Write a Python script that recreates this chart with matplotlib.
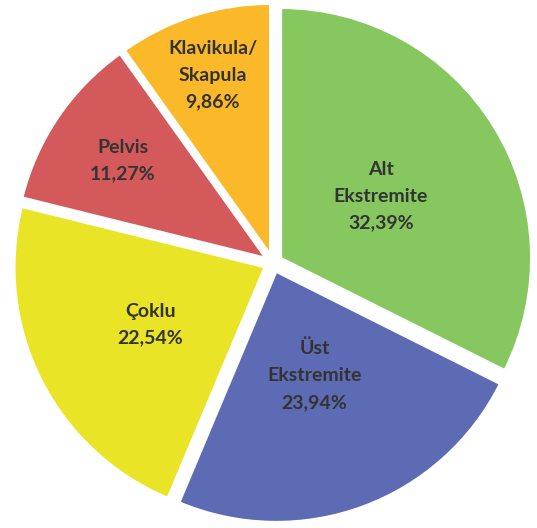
import numpy as np
import matplotlib.pyplot as plt

categories = ["Alt\nEkstremite", "Üst\nEkstremite", "Çoklu", "Pelvis", "Klavikula/\nSkapula"]
values = [32.39, 23.94, 22.54, 11.27, 9.86]
colors = ["#86C760", "#5C6BB3", "#E9E426", "#D3595B", "#FBB92A"]
label_radius = [0.47, 0.44, 0.51, 0.69, 0.75]

W, H = 537, 528
fig = plt.figure(figsize=(W / 100, H / 100), dpi=100)
ax = fig.add_axes([0, 0, 1, 1])

R = 250.0
cx, cy = 273.0, H - 263.0
explode = [9.5] * len(values)  # offset in pixels (data units)

wedges, _ = ax.pie(values, colors=colors, startangle=90, counterclock=False,
                   radius=R, center=(cx, cy), explode=explode,
                   wedgeprops=dict(edgecolor="white", linewidth=1.5))

for w, lab, val, rf in zip(wedges, categories, values, label_radius):
    mid = np.deg2rad((w.theta1 + w.theta2) / 2)
    wx, wy = w.center
    x = wx + rf * R * np.cos(mid)
    y = wy + rf * R * np.sin(mid)
    txt = f"{lab}\n{val:.2f}%".replace(".", ",")
    ax.text(x, y, txt, ha="center", va="center", fontsize=14,
            fontweight="bold", color="#333333", family="Lato",
            linespacing=1.7)

ax.set_xlim(0, W)
ax.set_ylim(0, H)
ax.set_aspect("equal")
ax.axis("off")
fig.savefig("out.png", dpi=100, facecolor="white")
